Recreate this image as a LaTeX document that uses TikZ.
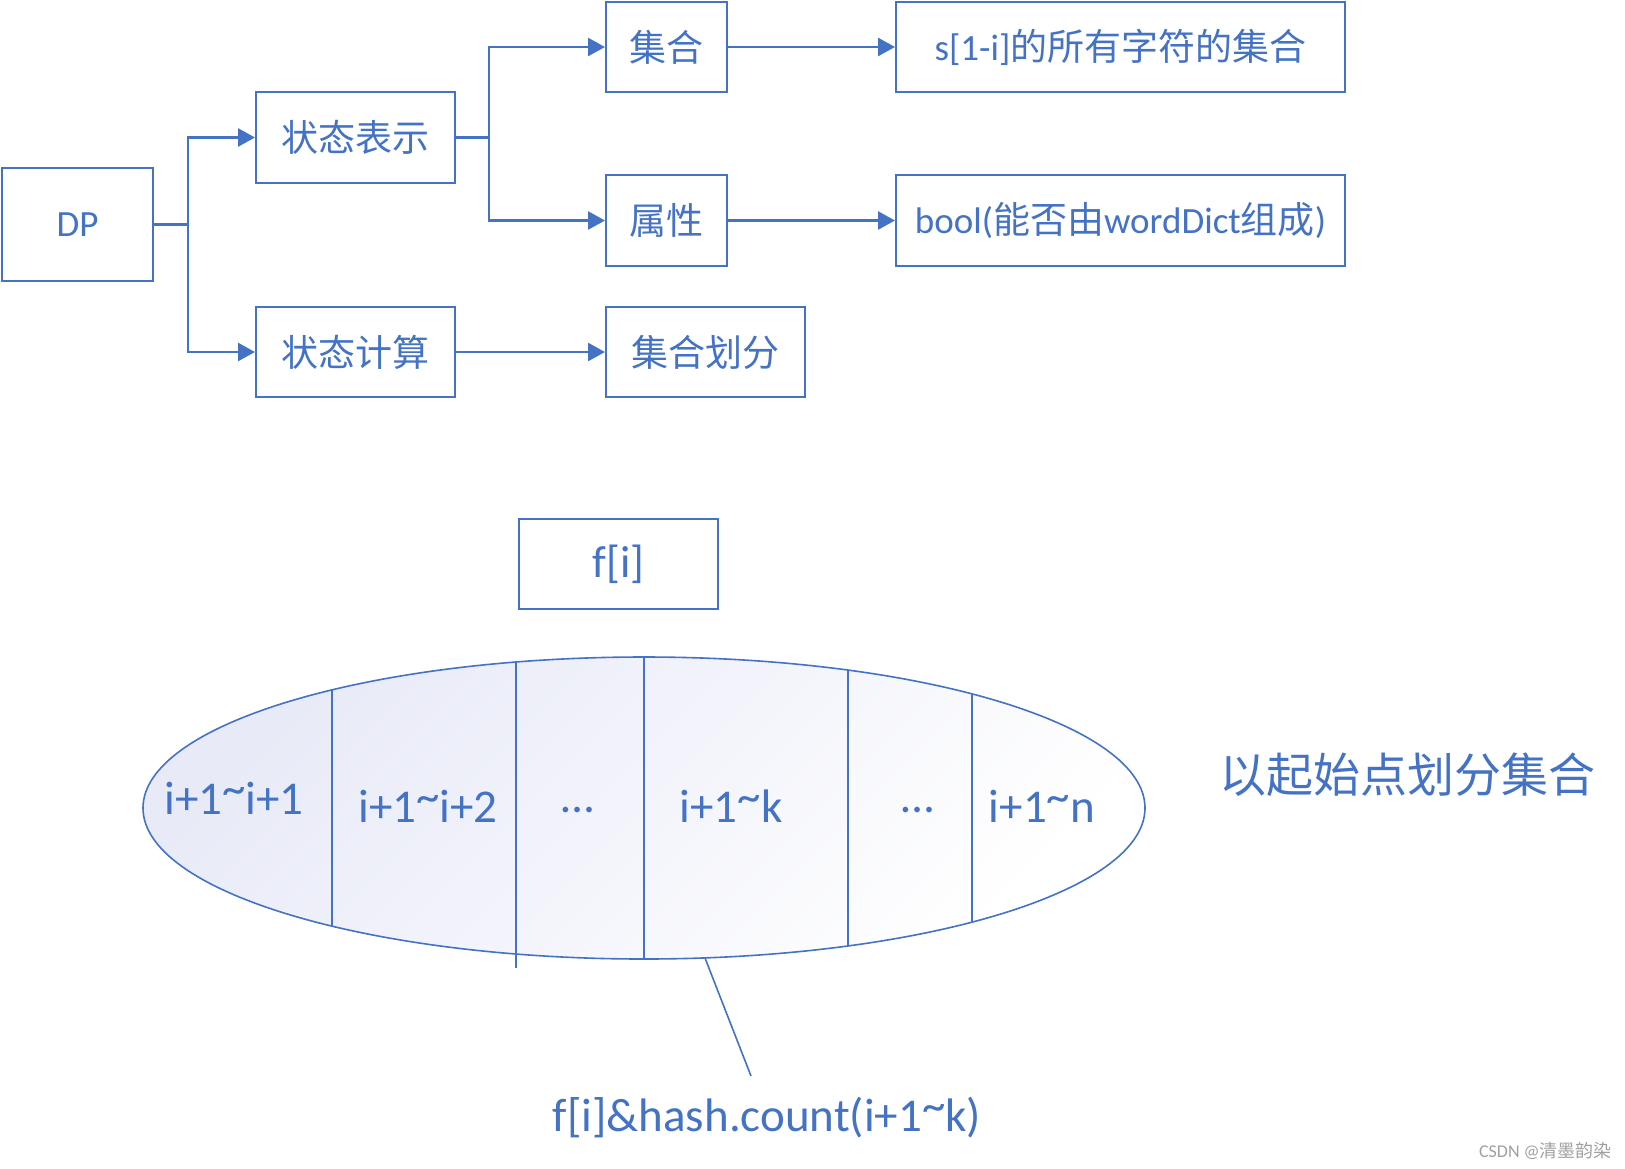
\documentclass[tikz,border=0pt]{standalone}
\usepackage{fontspec}
\setmainfont{Carlito}
\newfontfamily\cjk{Noto Sans CJK SC}
\usetikzlibrary{arrows.meta}
\definecolor{ob}{HTML}{4472C4}
\definecolor{shadeC}{RGB}{232,234,247}
\definecolor{shadeM}{RGB}{247,248,252}
\definecolor{wm}{RGB}{160,160,160}
\newcommand\zh[1]{{\cjk #1}}
\newcommand\tld{\raisebox{0.2em}{\char`\~}}
\newcommand\dts{\raisebox{0.2em}{…}}
\begin{document}
\begin{tikzpicture}[x=1pt,y=-1pt,
  box/.style={draw=ob, line width=2pt, inner sep=0pt, text=ob, font=\fontsize{37}{44}\selectfont},
  conn/.style={draw=ob, line width=2.6pt, -{Triangle[length=17pt,width=18pt]}},
  big/.style={text=ob, font=\fontsize{47}{56}\selectfont, inner sep=0pt},
  thinl/.style={draw=ob, line width=1.8pt}]
\useasboundingbox (0,0) rectangle (1625,1168);
% top tree
\node[box, minimum width=151pt, minimum height=113pt] (dp) at (77.5,224.5) {DP};
\node[box, minimum width=199pt, minimum height=91pt] (zb) at (355.5,137.5) {\zh{状态表示}};
\node[box, minimum width=199pt, minimum height=90pt] (zj) at (355.5,352) {\zh{状态计算}};
\node[box, minimum width=121pt, minimum height=90pt] (jh) at (666.5,47) {\zh{集合}};
\node[box, minimum width=121pt, minimum height=91pt] (sx) at (666.5,220.5) {\zh{属性}};
\node[box, minimum width=199pt, minimum height=90pt] (hf) at (705.5,352) {\zh{集合划分}};
\node[box, minimum width=449pt, minimum height=90pt] (sb) at (1120.5,47) {s[1-i]\zh{的所有字符的集合}};
\node[box, minimum width=449pt, minimum height=91pt] (bb) at (1120.5,220.5) {bool(\zh{能否由}wordDict\zh{组成})};
\draw[conn] (dp.east) -- ++(34,0) |- (zb.west);
\draw[conn] (dp.east) -- ++(34,0) |- (zj.west);
\draw[conn] (zb.east) -- ++(33,0) |- (jh.west);
\draw[conn] (zb.east) -- ++(33,0) |- (sx.west);
\draw[conn] (jh) -- (sb);
\draw[conn] (sx) -- (bb);
\draw[conn] (zj) -- (hf);
% bottom part
\node[box, minimum width=199pt, minimum height=90pt, font=\fontsize{45}{54}\selectfont] (fi) at (618.5,564) {f[i]};
\shade[top color=shadeC, middle color=shadeM, bottom color=white, shading angle=45] (644,808) ellipse [x radius=501pt, y radius=151pt];
\draw[ob, line width=1.6pt] (644,808) ellipse [x radius=501pt, y radius=151pt];
\draw[thinl] (332,690) -- (332,926);
\draw[thinl] (516,662) -- (516,968);
\draw[thinl] (644,657) -- (644,959);
\draw[thinl] (848,670) -- (848,946);
\draw[thinl] (972,694) -- (972,922);
\node[big, anchor=base] (p1) at (234,814) {i+1\tld i+1};
\node[big, anchor=base] (p2) at (428,822) {i+1\tld i+2};
\node[big, anchor=base] (p3) at (578,822) {\dts};
\node[big, anchor=base] (p4) at (731,822) {i+1\tld k};
\node[big, anchor=base] (p5) at (918,822) {\dts};
\node[big, anchor=base] (p6) at (1042,822) {i+1\tld n};
\node[big] (qz) at (1407,775) {\zh{以起始点划分集合}};
\node[big, anchor=base] (lab) at (767,1131) {f[i]\&hash.count(i+1\tld k)};
\coordinate (ebot) at (705,958);
\coordinate (lend) at (751,1076);
\draw[ob, line width=1.6pt] (ebot) -- (lend);
\node[text=wm, inner sep=0pt, anchor=base east, font=\fontsize{18}{21}\selectfont] (wmk) at (1612,1157) {CSDN @\zh{清墨韵染}};
\end{tikzpicture}
\end{document}
